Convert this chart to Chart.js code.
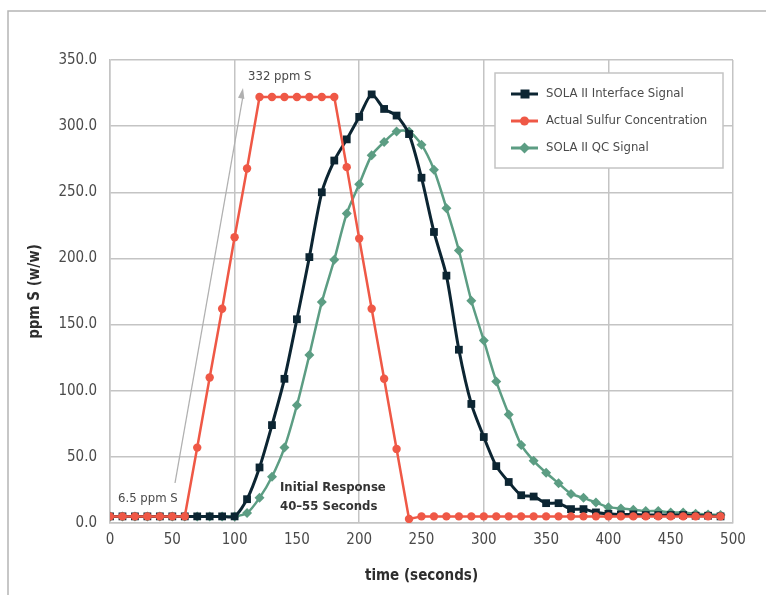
<!DOCTYPE html>
<html>
<head>
<meta charset="utf-8">
<script src="https://cdn.jsdelivr.net/npm/chart.js@4.4.1/dist/chart.umd.min.js"></script>
<style>
  html, body { margin: 0; padding: 0; background: #fff; }
  #wrap { width: 766px; height: 595px; position: relative; }
</style>
</head>
<body>
<div id="wrap"><canvas id="chart" width="766" height="595"></canvas></div>
<script>
// --- Data ---
const timeSec = [0,10,20,30,40,50,60,70,80,90,100,110,120,130,140,150,160,170,180,190,
  200,210,220,230,240,250,260,270,280,290,300,310,320,330,340,350,360,370,380,390,
  400,410,420,430,440,450,460,470,480,490];

const interfaceSignal = [5,5,5,5,5,5,5,5,5,5,5,18,42,74,109,154,201,250,274,290,
  307,324,313,308,294,261,220,187,131,90,65,43,31,21,20,15,15,10.5,10.5,8,
  7,6.5,6.5,6,6,6,6,5.5,5.5,5];

const actualSulfur = [5,5,5,5,5,5,5,57,110,162,216,268,322,322,322,322,322,322,322,269,
  215,162,109,56,3,5,5,5,5,5,5,5,5,5,5,5,5,5,5,5,
  5,5,5,5,5,5,5,5,5,5];

const qcSignal = [5,5,5,5,5,5,5,5,5,5,5,7.5,19,35,57,89,127,167,199,234,
  256,278,288,296,296,286,267,238,206,168,138,107,82,59,47,38,30,22,19,15.5,
  12,11,10,9,9,8,8,7,6.5,6];

const seriesNames = ["SOLA II Interface Signal", "Actual Sulfur Concentration", "SOLA II QC Signal"];
const yTicks = [0, 50, 100, 150, 200, 250, 300, 350];
const xTicks = [0, 50, 100, 150, 200, 250, 300, 350, 400, 450, 500];

// --- Style ---
const FONT = "'Liberation Sans Narrow', 'DejaVu Sans Condensed', 'Roboto Condensed', sans-serif";
const C_NAVY = "#0c2532";
const C_RED = "#ef5846";
const C_GREEN = "#5c9d83";
const C_GRID = "#c4c4c4";
const C_TEXT = "#4a4a4a";

function toPoints(arr) {
  return arr.map((v, i) => ({ x: timeSec[i], y: v }));
}

// --- Frame, annotations and legend ---
const extrasPlugin = {
  id: "extras",
  beforeDraw(chart) {
    const ctx = chart.ctx;
    ctx.save();
    ctx.strokeStyle = "#b5b5b5";
    ctx.lineWidth = 1.5;
    ctx.beginPath();
    ctx.moveTo(8, 595);
    ctx.lineTo(8, 11);
    ctx.lineTo(766, 11);
    ctx.stroke();
    ctx.restore();
  },
  afterDraw(chart) {
    const ctx = chart.ctx;
    ctx.save();

    // arrow from 6.5 ppm to 332 ppm
    const x1 = 175, y1 = 483, x2 = 243, y2 = 88;
    ctx.strokeStyle = "#b0b0b0";
    ctx.fillStyle = "#b0b0b0";
    ctx.lineWidth = 1.3;
    ctx.beginPath();
    ctx.moveTo(x1, y1);
    ctx.lineTo(x2, y2 + 8);
    ctx.stroke();
    const ang = Math.atan2(y2 - y1, x2 - x1);
    ctx.beginPath();
    ctx.moveTo(x2, y2);
    ctx.lineTo(x2 - 11 * Math.cos(ang - 0.3), y2 - 11 * Math.sin(ang - 0.3));
    ctx.lineTo(x2 - 11 * Math.cos(ang + 0.3), y2 - 11 * Math.sin(ang + 0.3));
    ctx.closePath();
    ctx.fill();

    ctx.fillStyle = C_TEXT;
    ctx.textBaseline = "middle";
    ctx.textAlign = "left";
    ctx.font = "13px " + FONT;
    ctx.fillText("332 ppm S", 248, 77);
    ctx.fillText("6.5 ppm S", 118, 499);

    ctx.fillStyle = "#333";
    ctx.font = "bold 13px " + FONT;
    ctx.fillText("Initial Response", 280, 488);
    ctx.fillText("40\u201355 Seconds", 280, 507);

    // legend box
    const lx = 495, ly = 73, lw = 228, lh = 95;
    ctx.fillStyle = "#fff";
    ctx.fillRect(lx, ly, lw, lh);
    ctx.strokeStyle = "#c4c4c4";
    ctx.lineWidth = 1.5;
    ctx.strokeRect(lx, ly, lw, lh);
    const rowsY = [94, 121, 148];
    chart.data.datasets.forEach((ds, i) => {
      const y = rowsY[i];
      ctx.strokeStyle = ds.borderColor;
      ctx.lineWidth = 3;
      ctx.beginPath();
      ctx.moveTo(511, y);
      ctx.lineTo(538, y);
      ctx.stroke();
      ctx.fillStyle = ds.borderColor;
      ctx.beginPath();
      if (ds.pointStyle === "rect") {
        ctx.rect(520.5, y - 4.5, 9, 9);
      } else if (ds.pointStyle === "circle") {
        ctx.arc(524.5, y, 4.5, 0, Math.PI * 2);
      } else {
        ctx.moveTo(524.5, y - 5.5);
        ctx.lineTo(530, y);
        ctx.lineTo(524.5, y + 5.5);
        ctx.lineTo(519, y);
        ctx.closePath();
      }
      ctx.fill();
      ctx.fillStyle = C_TEXT;
      ctx.font = "13px " + FONT;
      ctx.textAlign = "left";
      ctx.fillText(ds.label, 546, y);
    });
    ctx.restore();
  }
};

new Chart(document.getElementById("chart"), {
  type: "line",
  data: {
    datasets: [
      {
        label: seriesNames[0],
        data: toPoints(interfaceSignal),
        borderColor: C_NAVY,
        backgroundColor: C_NAVY,
        borderWidth: 3,
        pointStyle: "rect",
        pointRadius: 5.5,
        pointBorderWidth: 0,
        tension: 0.25,
        order: 1
      },
      {
        label: seriesNames[1],
        data: toPoints(actualSulfur),
        borderColor: C_RED,
        backgroundColor: C_RED,
        borderWidth: 2.5,
        pointStyle: "circle",
        pointRadius: 4.2,
        pointBorderWidth: 0,
        tension: 0,
        order: 0
      },
      {
        label: seriesNames[2],
        data: toPoints(qcSignal),
        borderColor: C_GREEN,
        backgroundColor: C_GREEN,
        borderWidth: 2.5,
        pointStyle: "rectRot",
        pointRadius: 5,
        pointBorderWidth: 0,
        tension: 0.25,
        order: 2
      }
    ]
  },
  options: {
    responsive: false,
    animation: false,
    layout: { padding: { left: 0, top: 60, right: 33, bottom: 0 } },
    plugins: {
      legend: { display: false },
      tooltip: { enabled: false }
    },
    scales: {
      x: {
        type: "linear",
        min: 0,
        max: 500,
        afterBuildTicks: (s) => { s.ticks = xTicks.map(v => ({ value: v })); },
        afterFit: (s) => { s.height = 72; },
        grid: {
          color: (c) => (c.tick && c.tick.value % 100 === 0) ? C_GRID : "rgba(0,0,0,0)",
          lineWidth: 1.5,
          drawTicks: false
        },
        border: { display: true, color: C_GRID, width: 1.5 },
        ticks: {
          color: C_TEXT,
          padding: 8,
          maxRotation: 0,
          font: { family: FONT, size: 15 }
        },
        title: {
          display: true,
          text: "time (seconds)",
          color: "#2d2d2d",
          padding: { top: 0, bottom: 10 },
          font: { family: FONT, size: 15, weight: "bold" }
        }
      },
      y: {
        min: 0,
        max: 350,
        afterBuildTicks: (s) => { s.ticks = yTicks.map(v => ({ value: v })); },
        afterFit: (s) => { s.width = 110; },
        grid: { color: C_GRID, lineWidth: 1.5, drawTicks: false },
        border: { display: true, color: C_GRID, width: 1.5 },
        ticks: {
          color: C_TEXT,
          padding: 13,
          font: { family: FONT, size: 15 },
          callback: (v) => Number(v).toFixed(1)
        },
        title: {
          display: true,
          text: "ppm S (w/w)",
          color: "#2d2d2d",
          padding: { top: 26, bottom: 0 },
          font: { family: FONT, size: 15, weight: "bold" }
        }
      }
    }
  },
  plugins: [extrasPlugin]
});
</script>
</body>
</html>
